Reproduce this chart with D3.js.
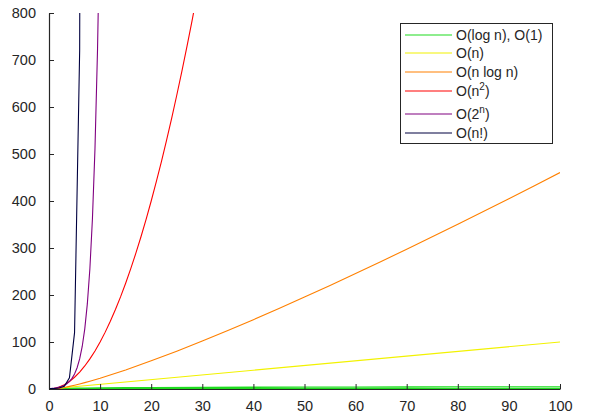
<!DOCTYPE html>
<html>
<head>
<meta charset="utf-8">
<script src="https://cdn.jsdelivr.net/npm/d3@7"></script>
<style>
  html, body { margin: 0; padding: 0; background: #fff; }
  svg { display: block; }
  text { font-family: "Liberation Sans", Arial, sans-serif; fill: #262626; }
</style>
</head>
<body>
<svg id="chart" width="592" height="414"></svg>
<script>
// ---- data ----
const xTicks = [0, 10, 20, 30, 40, 50, 60, 70, 80, 90, 100];
const yTicks = [0, 100, 200, 300, 400, 500, 600, 700, 800];

const constX = [0, 100];
const constY = [1, 1];

const logX = [1, 2, 3, 5, 7, 10, 15, 20, 30, 40, 50, 60, 70, 80, 90, 100];
const logY = [0, 0.693, 1.099, 1.609, 1.946, 2.303, 2.708, 2.996, 3.401, 3.689, 3.912, 4.094, 4.248, 4.382, 4.500, 4.605];

const linX = [0, 100];
const linY = [0, 100];

const nlognX = [0, 1, 2, 3, 4, 5, 6, 7, 8, 9, 10, 15, 20, 25, 30, 35, 40, 45, 50, 55, 60, 65, 70, 75, 80, 85, 90, 95, 100];
const nlognY = [0, 0, 1.39, 3.30, 5.55, 8.05, 10.75, 13.62, 16.64, 19.78, 23.03, 40.62, 59.91, 80.47, 102.04, 124.44, 147.56, 171.30, 195.60, 220.40, 245.66, 271.34, 297.39, 323.81, 350.56, 377.63, 404.98, 432.62, 460.52];

const sqX = [0, 1, 2, 3, 4, 5, 6, 7, 8, 9, 10, 11, 12, 13, 14, 15, 16, 17, 18, 19, 20, 21, 22, 23, 24, 25, 26, 27, 28, 29, 30];
const sqY = [0, 1, 4, 9, 16, 25, 36, 49, 64, 81, 100, 121, 144, 169, 196, 225, 256, 289, 324, 361, 400, 441, 484, 529, 576, 625, 676, 729, 784, 841, 900];

const expX = [0, 0.5, 1, 1.5, 2, 2.5, 3, 3.5, 4, 4.5, 5, 5.5, 6, 6.5, 7, 7.5, 8, 8.5, 9, 9.5, 10];
const expY = [1, 1.41, 2, 2.83, 4, 5.66, 8, 11.31, 16, 22.63, 32, 45.25, 64, 90.51, 128, 181.02, 256, 362.04, 512, 724.08, 1024];

const factX = [0, 1, 2, 3, 4, 5, 6, 7];
const factY = [1, 1, 2, 6, 24, 120, 720, 5040];

const seriesNames = ["O(log n), O(1)", "O(n)", "O(n log n)", "O(n2)", "O(2n)", "O(n!)"];
const seriesColors = ["#1fdc1f", "#f2f200", "#ff8000", "#ff0000", "#800080", "#000040"];

// ---- layout ----
const svg = d3.select("#chart");
const pLeft = 49, pRight = 560, pTop = 13, pBottom = 389;
const x = d3.scaleLinear().domain([0, 100]).range([pLeft, pRight]);
const y = d3.scaleLinear().domain([0, 800]).range([pBottom, pTop]);

svg.append("defs").append("clipPath").attr("id", "plotclip")
  .append("rect").attr("x", pLeft).attr("y", pTop).attr("width", pRight - pLeft).attr("height", pBottom - pTop);

const line = d3.line().x(d => x(d[0])).y(d => y(d[1]));
const zip = (xs, ys) => xs.map((v, i) => [v, ys[i]]);

const series = [
  { pts: [zip(constX, constY), zip(logX, logY)], c: 0 },
  { pts: [zip(linX, linY)], c: 1 },
  { pts: [zip(nlognX, nlognY)], c: 2 },
  { pts: [zip(sqX, sqY)], c: 3 },
  { pts: [zip(expX, expY)], c: 4 },
  { pts: [zip(factX, factY)], c: 5 }
];

const plot = svg.append("g").attr("clip-path", "url(#plotclip)");
series.forEach(s => {
  s.pts.forEach(p => {
    plot.append("path").datum(p)
      .attr("d", line)
      .attr("fill", "none")
      .attr("stroke", seriesColors[s.c])
      .attr("stroke-width", s.c === 0 ? 1.3 : 1.1);
  });
});

// ---- axes ----
const xAxis = d3.axisBottom(x).tickValues(xTicks).tickSizeInner(-5).tickSizeOuter(0).tickPadding(12);
const yAxis = d3.axisLeft(y).tickValues(yTicks).tickSizeInner(-5).tickSizeOuter(0).tickPadding(13);

const gx = svg.append("g").attr("transform", `translate(0,${pBottom})`).call(xAxis);
const gy = svg.append("g").attr("transform", `translate(${pLeft},0)`).call(yAxis);
[gx, gy].forEach(g => {
  g.select(".domain").attr("stroke", "#262626").attr("stroke-width", 1.2);
  g.selectAll(".tick line").attr("stroke", "#262626");
  g.selectAll(".tick text").attr("font-size", 14.5).attr("fill", "#262626")
    .style("font-family", "'Liberation Sans', Arial, sans-serif");
});

// ---- legend ----
const lg = svg.append("g");
lg.append("rect").attr("x", 400.5).attr("y", 23.5).attr("width", 152).attr("height", 120)
  .attr("fill", "#fff").attr("stroke", "#262626").attr("stroke-width", 1);
const rowY = [35, 53, 72, 91, 114, 133];
seriesNames.forEach((name, i) => {
  const ry = rowY[i];
  lg.append("line").attr("x1", 405).attr("x2", 452).attr("y1", ry).attr("y2", ry)
    .attr("stroke", seriesColors[i]).attr("stroke-width", 1.1);
  const t = lg.append("text").attr("x", 456).attr("y", ry + 5).attr("font-size", 14);
  if (i === 3) {
    t.append("tspan").text("O(n");
    t.append("tspan").attr("font-size", 10).attr("dy", -6).text("2");
    t.append("tspan").attr("dy", 6).text(")");
  } else if (i === 4) {
    t.append("tspan").text("O(2");
    t.append("tspan").attr("font-size", 10).attr("dy", -6).text("n");
    t.append("tspan").attr("dy", 6).text(")");
  } else {
    t.text(name);
  }
});
</script>
</body>
</html>
